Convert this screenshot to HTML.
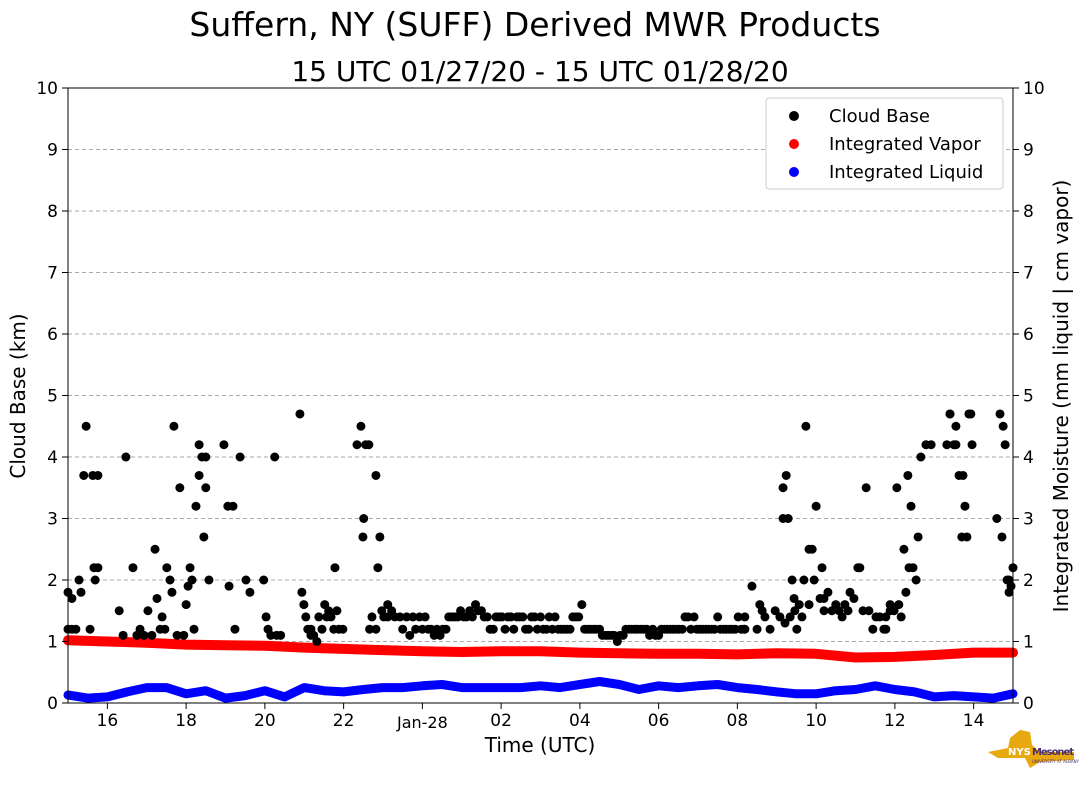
<!DOCTYPE html>
<html><head><meta charset="utf-8"><style>
body{margin:0;background:#fff;font-family:"DejaVu Sans","Liberation Sans",sans-serif}
</style></head><body>
<svg id="chart" width="1089" height="804" xmlns="http://www.w3.org/2000/svg" font-family="DejaVu Sans, Liberation Sans, sans-serif">
<text x="535" y="36" font-size="33" text-anchor="middle">Suffern, NY (SUFF) Derived MWR Products</text>
<text x="540" y="81" font-size="28" text-anchor="middle">15 UTC 01/27/20 - 15 UTC 01/28/20</text>
<g id="grid"></g><g id="marks"></g><g id="axes"></g>
<g>
<rect x="766" y="98" width="237" height="91" fill="#fff" stroke="#ccc" rx="3"/>
<circle cx="794" cy="116" r="5" fill="#000"/><text x="829" y="122" font-size="18">Cloud Base</text>
<circle cx="794" cy="144" r="5" fill="#f00"/><text x="829" y="150" font-size="18">Integrated Vapor</text>
<circle cx="794" cy="172" r="5" fill="#00f"/><text x="829" y="178" font-size="18">Integrated Liquid</text>
</g>
<text x="540" y="752" font-size="20" text-anchor="middle">Time (UTC)</text>
<text transform="translate(25,396) rotate(-90)" font-size="20" text-anchor="middle">Cloud Base (km)</text>
<text transform="translate(1068,396) rotate(-90)" font-size="20" text-anchor="middle">Integrated Moisture (mm liquid | cm vapor)</text>
<g>
<polygon points="988,752 1008,748 1010,738 1020,730 1030,732 1032,745 1040,752 1074,752 1074,760 1040,762 1030,768 1025,758 998,758" fill="#e8a80f"/>
<text x="1008" y="755" font-size="10" font-weight="bold" fill="#fff">NYS</text>
<text x="1032" y="755" font-size="10" font-weight="bold" fill="#4b2e6e" textLength="42">Mesonet</text>
<text x="1032" y="763" font-size="4" fill="#4b2e6e">UNIVERSITY AT ALBANY</text>
</g>
</svg>
<script>
const cbTimes=[0,0,0.1,0.1,0.2,0.28,0.33,0.4,0.46,0.56,0.63,0.66,0.69,0.76,0.76,1.3,1.4,1.47,1.65,1.75,1.83,1.93,2.03,2.13,2.21,2.26,2.34,2.39,2.46,2.51,2.59,2.64,2.69,2.77,2.84,2.94,3.0,3.05,3.1,3.15,3.2,3.25,3.33,3.33,3.4,3.45,3.5,3.5,3.58,3.96,4.06,4.09,4.19,4.24,4.37,4.52,4.62,4.97,5.03,5.08,5.15,5.25,5.3,5.4,5.89,5.94,5.99,6.04,6.09,6.17,6.17,6.24,6.32,6.37,6.45,6.52,6.57,6.62,6.68,6.75,6.78,6.83,6.88,6.98,7.34,7.44,7.49,7.51,7.56,7.64,7.66,7.72,7.82,7.82,7.87,7.92,7.97,8.02,8.12,8.12,8.22,8.3,8.43,8.5,8.6,8.68,8.76,8.83,8.93,
17.19,17.19,17.37,17.5,17.57,17.63,17.7,17.83,17.96,18.08,18.21,18.34,18.46,18.16,18.16,18.24,18.29,18.39,18.44,18.51,18.57,18.64,18.69,18.74,18.82,18.82,18.9,18.95,19.0,19.1,19.15,19.2,19.2,19.3,19.4,19.5,19.58,19.66,19.73,19.81,19.86,19.96,20.06,20.11,20.19,20.27,20.34,20.44,20.52,20.62,20.72,20.77,20.77,20.88,20.88,20.98,21.05,21.1,21.16,21.23,21.28,21.33,21.36,21.41,21.46,21.54,21.59,21.66,21.79,21.92,22.32,22.4,22.4,22.5,22.55,22.55,22.63,22.7,22.73,22.78,22.83,22.88,22.93,22.96,23.59,23.67,23.72,23.75,23.8,23.85,23.9,23.9,23.95,24.0];
const cbValues=[1.8,1.2,1.7,1.2,1.2,2.0,1.8,3.7,4.5,1.2,3.7,2.2,2.0,3.7,2.2,1.5,1.1,4.0,2.2,1.1,1.2,1.1,1.5,1.1,2.5,1.7,1.2,1.4,1.2,2.2,2.0,1.8,4.5,1.1,3.5,1.1,1.6,1.9,2.2,2.0,1.2,3.2,3.7,4.2,4.0,2.7,3.5,4.0,2.0,4.2,3.2,1.9,3.2,1.2,4.0,2.0,1.8,2.0,1.4,1.2,1.1,4.0,1.1,1.1,4.7,1.8,1.6,1.4,1.2,1.1,1.2,1.1,1.0,1.4,1.2,1.6,1.4,1.5,1.4,1.2,2.2,1.5,1.2,1.2,4.2,4.5,2.7,3.0,4.2,4.2,1.2,1.4,3.7,1.2,2.2,2.7,1.5,1.4,1.6,1.4,1.5,1.4,1.4,1.2,1.4,1.1,1.4,1.2,1.4,
1.2,1.4,1.9,1.2,1.6,1.5,1.4,1.2,1.5,1.4,1.3,1.4,1.5,3.0,3.5,3.7,3.0,2.0,1.7,1.2,1.6,1.4,2.0,4.5,2.5,1.6,2.5,2.0,3.2,1.7,2.2,1.7,1.5,1.8,1.5,1.6,1.5,1.4,1.6,1.5,1.8,1.7,2.2,2.2,1.5,3.5,1.5,1.2,1.4,1.4,1.2,1.2,1.4,1.5,1.6,1.5,3.5,1.6,1.4,2.5,1.8,3.7,2.2,3.2,2.2,2.0,2.7,4.0,4.2,4.2,4.2,4.7,4.7,4.2,4.5,4.2,3.7,2.7,3.7,3.2,2.7,4.7,4.7,4.2,3.0,4.7,2.7,4.5,4.2,2.0,2.0,1.8,1.9,2.2,2.5];
const denseStart=9.0, denseStep=0.15;
const denseValues=[1.2,1.2,1.1,1.1,1.2,1.4,1.4,1.4,1.5,1.6,1.5,1.4,1.2,1.4,1.2,1.4,1.4,1.4,1.2,1.4,1.4,1.2,1.2,1.2,1.2,1.2,1.4,1.6,1.2,1.2,1.2,1.1,1.1,1.0,1.1,1.2,1.2,1.2,1.2,1.2,1.1,1.2,1.2,1.2,1.2,1.4,1.4,1.2,1.2,1.2,1.4,1.2,1.2,1.2,1.2];
const denseValues2=[1.4,1.2,1.2,1.2,1.4,1.4,1.5,1.4,1.4,1.5,1.4,1.2,1.4,1.4,1.4,1.2,1.4,1.2,1.4,1.2,1.2,1.4,1.4,1.2,1.2,1.4,1.4,1.2,1.2,1.2,1.1,1.1,1.1,1.1,1.2,1.2,1.2,1.2,1.1,1.1,1.2,1.2,1.2,1.2,1.4,1.2,1.2,1.2,1.2,1.2,1.2,1.2,1.2,1.4,1.2];
const vaporValues=[1.02,1.0,0.98,0.95,0.94,0.93,0.9,0.88,0.86,0.84,0.83,0.84,0.84,0.82,0.81,0.8,0.8,0.79,0.81,0.8,0.74,0.75,0.78,0.82,0.82];
const liquidValues=[0.13,0.08,0.1,0.18,0.25,0.25,0.15,0.2,0.08,0.12,0.2,0.1,0.25,0.2,0.18,0.22,0.25,0.25,0.28,0.3,0.25,0.25,0.25,0.25,0.28,0.25,0.3,0.35,0.3,0.22,0.28,0.25,0.28,0.3,0.25,0.22,0.18,0.15,0.15,0.2,0.22,0.28,0.22,0.18,0.1,0.12,0.1,0.08,0.15];
const xTickHours=[1,3,5,7,9,11,13,15,17,19,21,23];
const xTickLabels=["16","18","20","22","Jan-28","02","04","06","08","10","12","14"];
const yTicks=[0,1,2,3,4,5,6,7,8,9,10];

const L=68,R=1013,T=88,B=703;
const xs=h=>L+(R-L)*h/24, ys=v=>B-(B-T)*v/10;
const NS='http://www.w3.org/2000/svg';
function mk(tag,parent,attrs){const e=document.createElementNS(NS,tag);for(const k in attrs)e.setAttribute(k,attrs[k]);parent.appendChild(e);return e;}
const grid=document.getElementById('grid'),marks=document.getElementById('marks'),axes=document.getElementById('axes');
yTicks.forEach(v=>{
  if(v>0&&v<10){const g=mk('line',grid,{x1:L,x2:R,y1:ys(v),y2:ys(v),stroke:'#aaa','stroke-dasharray':'4,3'});
  
  }
  [[L,-1,'end'],[R,1,'start']].forEach(([x,d,a])=>{
    mk('line',axes,{x1:x,x2:x+6*d,y1:ys(v),y2:ys(v),stroke:'#000'});
    const t=mk('text',axes,{x:x+10*d,y:ys(v)+6,'font-size':17,'text-anchor':a});t.textContent=v;
    
    
  });
});
xTickHours.forEach((h,i)=>{
  mk('line',axes,{x1:xs(h),x2:xs(h),y1:B,y2:B+6,stroke:'#000'});
  const t=mk('text',axes,{x:xs(h),y:B+(i==4?25:23),'font-size':i==4?16:17,'text-anchor':'middle'});t.textContent=xTickLabels[i];
  
  
});
const fr=mk('rect',axes,{x:L,y:T,width:R-L,height:B-T,fill:'none',stroke:'#000','stroke-width':1});


function line(vals,step,color,name,w){
  const p=vals.map((v,i)=>xs(i*step).toFixed(1)+','+ys(v).toFixed(1)).join(' ');
  const e=mk('polyline',marks,{points:p,fill:'none',stroke:color,'stroke-width':w,'stroke-linecap':'round','stroke-linejoin':'round'});
  
  
}
line(vaporValues,1,'#f00','integrated-vapor-series',10);
line(liquidValues,0.5,'#00f','integrated-liquid-series',9);
function dot(h,v){const c=mk('circle',marks,{cx:xs(h),cy:ys(v),r:4.5,fill:'#000'});
  
  }
cbTimes.forEach((h,i)=>dot(h,cbValues[i]));
denseValues.forEach((v,i)=>dot(denseStart+i*denseStep,v));
denseValues2.forEach((v,i)=>dot(denseStart+0.07+i*denseStep,v));
</script>
</body></html>
